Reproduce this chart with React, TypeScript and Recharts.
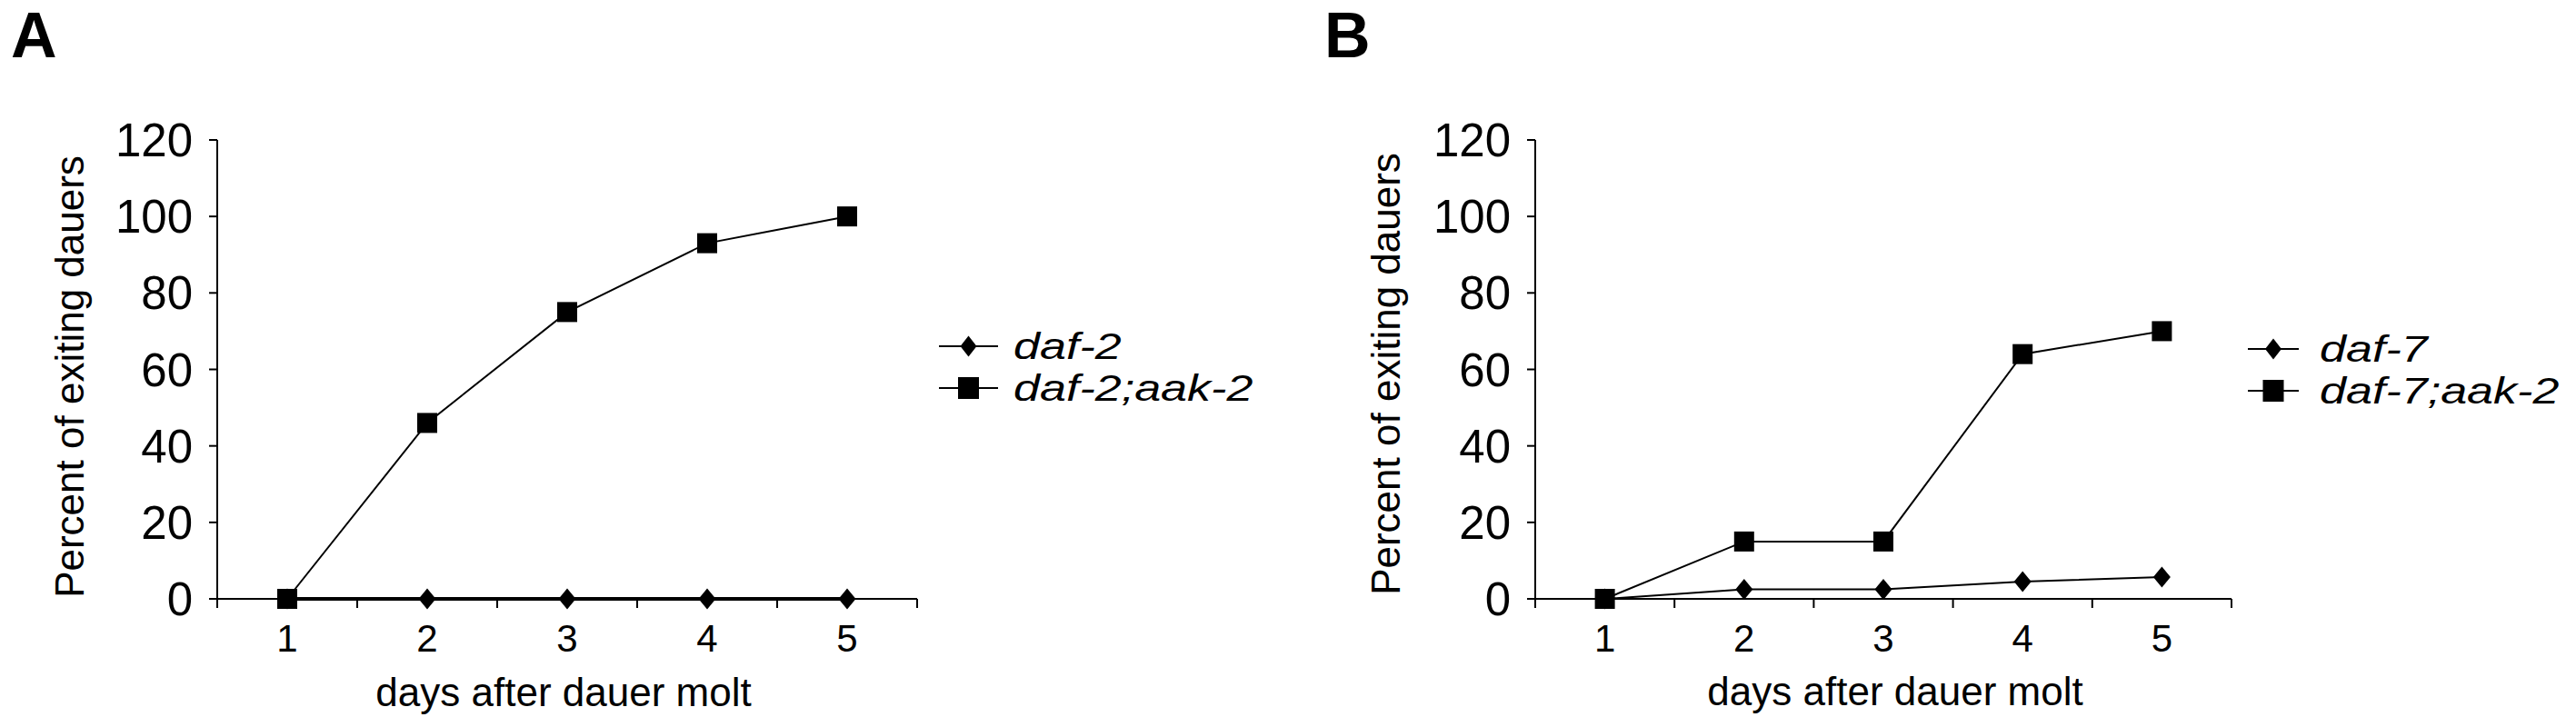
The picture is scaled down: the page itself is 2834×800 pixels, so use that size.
import React from "react";
import { LineChart, Line, XAxis, YAxis, Legend, Label } from "recharts";

// values
const days = [1, 2, 3, 4, 5];
const daf2 = [0, 0, 0, 0, 0];
const daf2aak2 = [0, 46, 75, 93, 100];
const daf7 = [0, 2.5, 2.5, 4.5, 5.7];
const daf7aak2 = [0, 15, 15, 64, 70];
const yTicks = [0, 20, 40, 60, 80, 100, 120];
const namesA = ["daf-2", "daf-2;aak-2"];
const namesB = ["daf-7", "daf-7;aak-2"];
const xTitle = "days after dauer molt";
const yTitle = "Percent of exiting dauers";

const FONT = '"Liberation Sans", Arial, Helvetica, sans-serif';

// tick marks sit between the days, labels on the days
const bounds = [...days.map((d) => d - 0.5), days[days.length - 1] + 0.5];
const xTicks = [...bounds, ...days].sort((a, b) => a - b);

const dataA = days.map((d, i) => ({ day: d, a: daf2[i], b: daf2aak2[i] }));
const dataB = days.map((d, i) => ({ day: d, a: daf7[i], b: daf7aak2[i] }));

const TICK = 10;
const TICK_GAP = 18;
const ROW = 46;

function DayTick(props: any) {
  const { x, y, payload } = props;
  const v = payload.value;
  if (!Number.isInteger(v)) {
    return (
      <line x1={x} x2={x} y1={y - TICK_GAP - TICK} y2={y - TICK_GAP} stroke="#000" strokeWidth={2} />
    );
  }
  return (
    <text x={x} y={y} dy={30} textAnchor="middle" fontSize={42} fontFamily={FONT} fill="#000">
      {v}
    </text>
  );
}

function SquareDot(props: any) {
  const { cx, cy } = props;
  if (cx == null || cy == null) return null;
  return <rect x={cx - 11} y={cy - 11} width={22} height={22} fill="#000" />;
}

function DiamondDot(props: any) {
  const { cx, cy } = props;
  if (cx == null || cy == null) return null;
  return (
    <polygon
      points={`${cx},${cy - 11.5} ${cx + 9.5},${cy} ${cx},${cy + 11.5} ${cx - 9.5},${cy}`}
      fill="#000"
    />
  );
}

function makeLegend(lineW: number, gap: number) {
  return (props: any) => {
    const { payload } = props;
    const mid = ROW / 2;
    return (
      <div>
        {(payload || []).map((entry: any) => {
          const m = lineW / 2;
          return (
            <div key={entry.value} style={{ display: "flex", alignItems: "center", height: ROW }}>
              <svg width={lineW} height={ROW} style={{ display: "block" }}>
                <line x1={0} x2={lineW} y1={mid} y2={mid} stroke="#000" strokeWidth={2} />
                {entry.type === "square" ? (
                  <rect x={m - 11.5} y={mid - 12} width={23} height={24} fill="#000" />
                ) : (
                  <polygon
                    points={`${m},${mid - 11.5} ${m + 9},${mid} ${m},${mid + 11.5} ${m - 9},${mid}`}
                    fill="#000"
                  />
                )}
              </svg>
              <span
                style={{
                  marginLeft: gap,
                  fontFamily: FONT,
                  fontStyle: "italic",
                  fontSize: 41,
                  lineHeight: `${ROW}px`,
                  display: "inline-block",
                  whiteSpace: "nowrap",
                  transform: "scaleX(1.27)",
                  transformOrigin: "left center",
                  color: "#000",
                }}
              >
                {entry.value}
              </span>
            </div>
          );
        })}
      </div>
    );
  };
}

interface PanelProps {
  left: number;
  width: number;
  plotW: number;
  data: any[];
  names: string[];
  thickFirst?: boolean;
  legendLeft: number;
  legendTop: number;
  legendLine: number;
  legendGap: number;
  yLabelBase: number;
  yLabelShift: number;
  xLabelShift: number;
  xLabelBase: number;
}

function Panel(p: PanelProps) {
  const marginLeft = 20;
  const yAxisW = 219;
  return (
    <div style={{ position: "absolute", left: p.left, top: 0 }}>
      <LineChart
        width={p.width}
        height={800}
        data={p.data}
        margin={{ top: 154, right: p.width - marginLeft - yAxisW - p.plotW, bottom: 0, left: marginLeft }}
      >
        <XAxis
          dataKey="day"
          type="number"
          domain={[bounds[0], bounds[bounds.length - 1]]}
          ticks={xTicks}
          interval={0}
          height={141}
          tickLine={false}
          tickSize={TICK}
          tickMargin={TICK_GAP}
          tick={<DayTick />}
          axisLine={{ stroke: "#000", strokeWidth: 2 }}
        >
          <Label
            content={(lp: any) => {
              const vb = lp.viewBox;
              return (
                <text
                  x={vb.x + vb.width / 2 + p.xLabelShift}
                  y={vb.y + p.xLabelBase}
                  textAnchor="middle"
                  fontSize={44}
                  fontFamily={FONT}
                  fill="#000"
                >
                  {xTitle}
                </text>
              );
            }}
          />
        </XAxis>
        <YAxis
          width={yAxisW}
          domain={[0, 120]}
          ticks={yTicks}
          interval={0}
          stroke="#000"
          tickSize={9}
          tickMargin={18}
          tick={{ fontSize: 51, fill: "#000", fontFamily: FONT }}
          axisLine={{ stroke: "#000", strokeWidth: 2 }}
          tickLine={{ stroke: "#000", strokeWidth: 2 }}
        >
          <Label
            content={(lp: any) => {
              const vb = lp.viewBox;
              const x = vb.x + vb.width - p.yLabelBase;
              const y = vb.y + vb.height / 2 + p.yLabelShift;
              return (
                <text
                  x={x}
                  y={y}
                  transform={`rotate(-90, ${x}, ${y})`}
                  textAnchor="middle"
                  fontSize={44}
                  fontFamily={FONT}
                  fill="#000"
                >
                  {yTitle}
                </text>
              );
            }}
          />
        </YAxis>
        <Legend
          layout="vertical"
          align="center"
          verticalAlign="middle"
          wrapperStyle={{ left: p.legendLeft, top: p.legendTop, width: "auto" }}
          content={makeLegend(p.legendLine, p.legendGap)}
        />
        <Line
          type="linear"
          dataKey="a"
          name={p.names[0]}
          legendType="diamond"
          stroke="#000"
          strokeWidth={p.thickFirst ? 4 : 2}
          dot={<DiamondDot />}
          activeDot={false}
          isAnimationActive={false}
        />
        <Line
          type="linear"
          dataKey="b"
          name={p.names[1]}
          legendType="square"
          stroke="#000"
          strokeWidth={2}
          dot={<SquareDot />}
          activeDot={false}
          isAnimationActive={false}
        />
      </LineChart>
    </div>
  );
}

const letterStyle: React.CSSProperties = {
  position: "absolute",
  top: 4,
  fontFamily: FONT,
  fontWeight: "bold",
  fontSize: 70,
  lineHeight: "70px",
  color: "#000",
};

export default function App() {
  return (
    <div
      style={{
        position: "absolute",
        left: 0,
        top: 0,
        width: 2834,
        height: 800,
        background: "#fff",
        overflow: "hidden",
      }}
    >
      <div style={{ ...letterStyle, left: 12 }}>A</div>
      <div style={{ ...letterStyle, left: 1457 }}>B</div>
      <Panel
        left={0}
        width={1417}
        plotW={770}
        data={dataA}
        names={namesA}
        thickFirst
        legendLeft={1033}
        legendTop={358}
        legendLine={65}
        legendGap={17}
        yLabelBase={147}
        yLabelShift={8}
        xLabelShift={-4}
        xLabelBase={118}
      />
      <Panel
        left={1450}
        width={1384}
        plotW={766}
        data={dataB}
        names={namesB}
        legendLeft={1023}
        legendTop={361}
        legendLine={56}
        legendGap={23}
        yLabelBase={149}
        yLabelShift={5}
        xLabelShift={13}
        xLabelBase={117}
      />
    </div>
  );
}
